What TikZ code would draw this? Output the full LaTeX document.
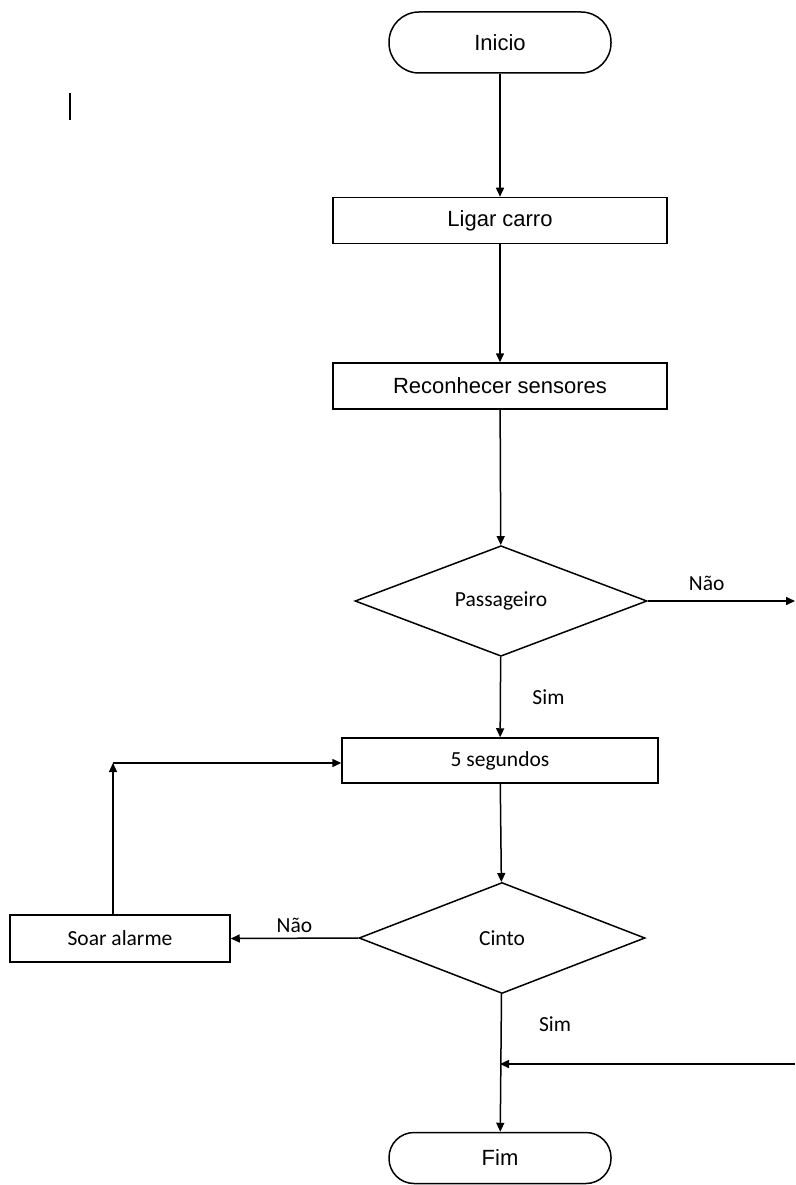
\documentclass[tikz,border=0pt]{standalone}
\usepackage{fontspec}
\setmainfont{Liberation Sans}
\newfontfamily\calibri{Carlito}
\usetikzlibrary{shapes.geometric,arrows.meta,positioning}

\begin{document}
\begin{tikzpicture}[x=1pt, y=-1pt, line width=1.5pt,
  >={Triangle[length=9pt,width=8pt]},
  term/.style={draw, minimum width=222pt, inner sep=0pt,
               font=\fontsize{22}{26}\selectfont},
  proc/.style={draw, minimum width=334pt, minimum height=46pt, inner sep=0pt,
               font=\fontsize{22}{26}\selectfont},
  dec/.style={draw, diamond, inner sep=0pt, font=\calibri\fontsize{21.5}{25}\selectfont},
  lbl/.style={font=\calibri\fontsize{21.5}{25}\selectfont}]
  \useasboundingbox (0,0) rectangle (795,1185);

  % steps
  \node[term, rounded corners=30pt, minimum height=61pt] (inicio) at (500,42.5) {Inicio};
  \node[proc] (ligar) at (500,220.5) {Ligar carro};
  \node[proc] (recon) at (500,386) {Reconhecer sensores};
  \node[dec, minimum width=292pt, minimum height=108pt] (pass) at (501,601) {Passageiro};
  \node[proc, minimum width=316pt, minimum height=45pt,
        font=\calibri\fontsize{21.5}{25}\selectfont] (seg) at (500,760.5) {5 segundos};
  \node[dec, minimum width=286pt, minimum height=111pt] (cinto) at (502,938) {Cinto};
  \node[proc, minimum width=220pt, minimum height=47pt,
        font=\calibri\fontsize{21.5}{25}\selectfont] (alarme) at (120,938.5) {Soar alarme};
  \node[term, rounded corners=25pt, minimum height=51pt] (fim) at (500,1158) {Fim};

  \coordinate (exitR) at (795,601);
  \coordinate (corner) at (113,763);
  \coordinate (entR) at (795,1064);

  % stray mark
  \draw[line width=1.8pt] (70,93) -- (70,120);

  % connectors
  \draw[->] (inicio) -- (ligar);
  \draw[->] (ligar) -- (recon);
  \draw[->] (recon) -- (pass);
  \draw[->] (pass.east) -- (exitR) node[lbl, pos=0.4, above=6pt] {Não};
  \draw[->] (pass) -- (seg) node[lbl, pos=0.5, right=28pt] {Sim};
  \draw[->] (seg) -- (cinto);
  \draw[->] (cinto.west) -- (alarme.east) node[lbl, midway, above=2pt] {Não};
  \draw[->] (alarme.north -| corner) -- (corner);
  \draw[->] (corner) -- (seg.west |- corner);
  \draw[->] (cinto) -- (fim);
  \draw[->] (entR) -- (entR -| fim);
  \node[lbl] (sim2) at (555,1024) {Sim};
\end{tikzpicture}
\end{document}
